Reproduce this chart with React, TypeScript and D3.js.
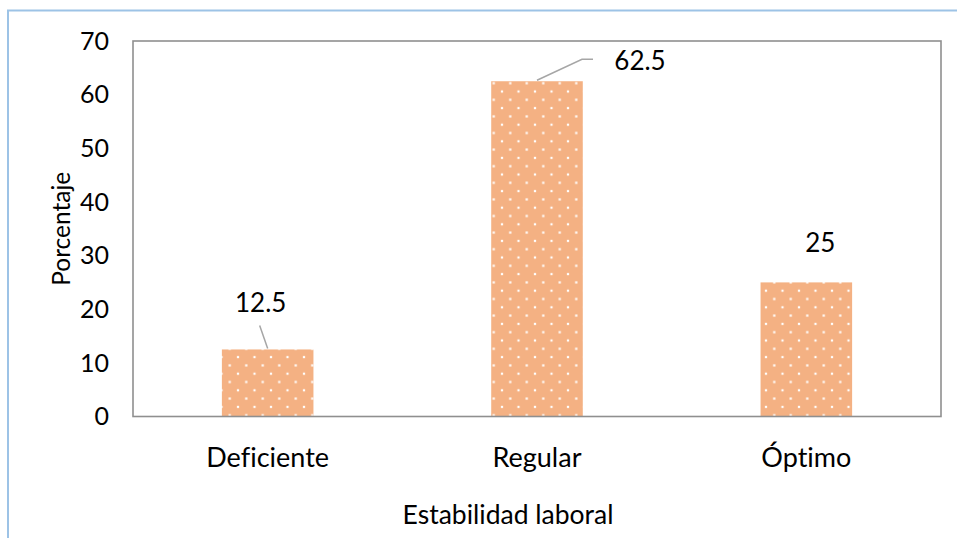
import React from "react";
import * as d3 from "d3";

// Data
const categories = ["Deficiente", "Regular", "Óptimo"];
const percentages = [12.5, 62.5, 25];
const yTicks = [0, 10, 20, 30, 40, 50, 60, 70];

// Layout
const W = 957;
const H = 538;
const plot = { left: 133, top: 41, right: 941, bottom: 416.5 };
const FONT = "Lato, 'Open Sans', sans-serif";
const BAR_FILL = "#F4B183";
const LEADER = "#A6A6A6";
const textStyle = { fontVariantLigatures: "none" as const };

// Label placement per bar (offsets from the bar's top centre) and leader elbows
const labelPlacement = [
  { dx: -7, dy: -37, leader: [[0, -1], [-8, -24]] },
  { dx: 103, dy: -11, leader: [[0, -1], [45, -22], [56, -22]] },
  { dx: 14, dy: -30, leader: null as null | number[][] },
];

export default function App() {
  const x = d3
    .scaleBand<string>()
    .domain(categories)
    .range([plot.left, plot.right])
    .paddingInner(0.66)
    .paddingOuter(0.33);

  const y = d3.scaleLinear().domain([0, 70]).range([plot.bottom, plot.top]);

  const bw = x.bandwidth();
  const line = d3.line();
  const dot = 2.2;

  return (
    <div style={{ position: "absolute", left: 0, top: 0 }}>
      <svg width={W} height={H} style={{ display: "block", background: "#fff" }}>
        <defs>
          <pattern
            id="dots"
            patternUnits="userSpaceOnUse"
            width={16.5}
            height={16.6}
            x={502}
            y={91.5}
          >
            <rect width={16.5} height={16.6} fill={BAR_FILL} />
            {[
              [0, 0],
              [16.5, 0],
              [0, 16.6],
              [16.5, 16.6],
              [8.25, 8.3],
            ].map(([px, py], k) => (
              <rect key={k} x={px - dot / 2} y={py - dot / 2} width={dot} height={dot} fill="#fff" />
            ))}
          </pattern>
        </defs>

        {/* outer chart frame */}
        <rect x={8} y={10.5} width={1000} height={1000} fill="none" stroke="#9DC3E6" strokeWidth={2} />

        {/* bars */}
        {categories.map((c, i) => (
          <rect
            key={c}
            x={x(c)}
            y={y(percentages[i])}
            width={bw}
            height={y(0) - y(percentages[i])}
            fill="url(#dots)"
          />
        ))}

        {/* plot area border */}
        <rect
          x={plot.left}
          y={plot.top}
          width={plot.right - plot.left}
          height={plot.bottom - plot.top}
          fill="none"
          stroke="#8F8F8F"
          strokeWidth={1.6}
        />

        {/* y tick labels */}
        {yTicks.map((t) => (
          <text
            key={t}
            x={109}
            y={y(t)}
            dy="0.35em"
            textAnchor="end"
            fontFamily={FONT}
            fontSize={25}
            fill="#000"
            style={textStyle}
          >
            {t}
          </text>
        ))}

        {/* category labels */}
        {categories.map((c) => (
          <text
            key={c}
            x={(x(c) as number) + bw / 2}
            y={467}
            textAnchor="middle"
            fontFamily={FONT}
            fontSize={27}
            fill="#000"
            style={textStyle}
          >
            {c}
          </text>
        ))}

        {/* leader lines and data labels */}
        {categories.map((c, i) => {
          const cx = (x(c) as number) + bw / 2;
          const top = y(percentages[i]);
          const p = labelPlacement[i];
          return (
            <g key={c}>
              {p.leader && (
                <path
                  d={line(p.leader.map(([a, b]) => [cx + a, top + b]) as [number, number][]) || ""}
                  fill="none"
                  stroke={LEADER}
                  strokeWidth={1.5}
                />
              )}
              <text
                x={cx + p.dx}
                y={top + p.dy}
                textAnchor="middle"
                fontFamily={FONT}
                fontSize={26}
                fill="#000"
                style={textStyle}
              >
                {percentages[i]}
              </text>
            </g>
          );
        })}

        {/* axis titles */}
        <text
          x={508}
          y={524}
          textAnchor="middle"
          fontFamily={FONT}
          fontSize={26.5}
          fill="#000"
          style={textStyle}
        >
          Estabilidad laboral
        </text>
        <text
          transform={`translate(70, ${(plot.top + plot.bottom) / 2}) rotate(-90)`}
          textAnchor="middle"
          fontFamily={FONT}
          fontSize={24.5}
          fill="#000"
          style={textStyle}
        >
          Porcentaje
        </text>
      </svg>
    </div>
  );
}
